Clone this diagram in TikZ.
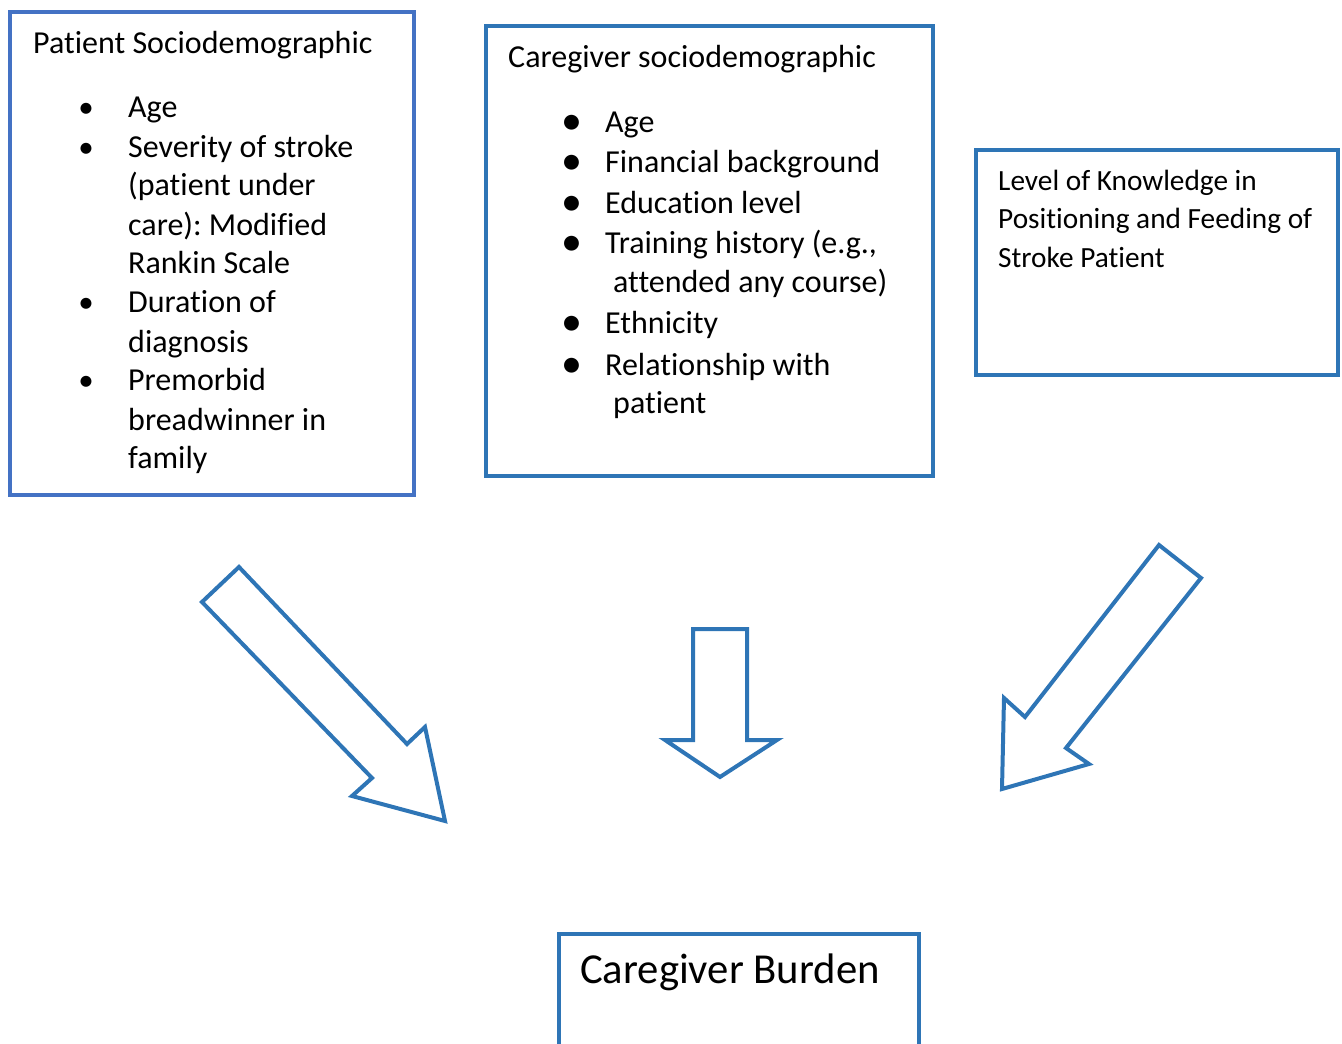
\documentclass[tikz,border=0pt]{standalone}
\usepackage{fontspec}
\setmainfont{Carlito}[Ligatures={NoCommon}]
\usepackage{tikz}
\frenchspacing

\definecolor{patblue}{HTML}{4472C4}
\definecolor{cgblue}{HTML}{2E75B6}

\tikzset{
  framebox/.style={draw=#1, line width=4pt, inner sep=0pt},
  entry/.style={anchor=base west, inner sep=0pt, font=\fontsize{32}{39}\selectfont},
  smalldot/.style={anchor=base, inner sep=0pt, font=\fontsize{31}{39}\selectfont},
  bigdot/.style={anchor=base, inner sep=0pt, font=\fontsize{42}{42}\selectfont},
  blockarrow/.style={draw=cgblue, line width=4pt, line join=miter},
}

\begin{document}
\begin{tikzpicture}[x=1pt, y=-1pt]
    \useasboundingbox (0,0) rectangle (1342,1044);

    % Patient box
    \node[framebox=patblue, minimum width=404, minimum height=483] (patient) at (212,253.5) {};
    \node[entry] (pt) at (33,53) {Patient Sociodemographic};
    \foreach \yy in {117,157,312,390}
        \node[smalldot] (pd\yy) at (86,\yy) {•};
    \foreach \yy/\txt in {117/Age, 157/Severity of stroke, 195/(patient under,
        235/{care): Modified}, 273/Rankin Scale, 312/Duration of, 352/diagnosis,
        390/Premorbid, 430/breadwinner in, 468/family}
        \node[entry] (pl\yy) at (128,\yy) {\txt};

    % Caregiver box
    \node[framebox=cgblue, minimum width=447, minimum height=450.5] (carer) at (709,250.75) {};
    \node[entry] (ct) at (508,67) {Caregiver sociodemographic};
    \foreach \yy in {132,172,213,253,333,375}
        \node[bigdot] (cd\yy) at (572,\yy+2.5) {•};
    \foreach \xx/\yy/\txt in {605/132/Age, 605/172/Financial background, 605/213/Education level,
        605/253/{Training history (e.g.,}, 613/292/{attended any course)}, 605/333/Ethnicity,
        605/375/Relationship with, 613/413/patient}
        \node[entry] (cl\yy) at (\xx,\yy) {\txt};

    % Knowledge box
    \node[framebox=cgblue, minimum width=362, minimum height=224.5] (know) at (1156.5,262.25) {};
    \foreach \yy/\txt in {190/Level of Knowledge in, 228/Positioning and Feeding of, 267/Stroke Patient}
        \node[entry, font=\fontsize{29.3}{38}\selectfont] (kl\yy) at (998,\yy) {\txt};

    % Burden box
    \node[framebox=cgblue, minimum width=360, minimum height=140] (burden) at (739,1003.5) {};
    \node[entry, font=\fontsize{42.7}{48}\selectfont] (bt) at (580,983) {Caregiver Burden};

    % Block arrows
    \draw[blockarrow] (239,567) -- (202,602) -- (372,778) -- (352,796) -- (445,821)
        -- (425,727) -- (407,744) -- cycle;
    \draw[blockarrow] (693,629) -- (747,629) -- (747,740) -- (777,740) -- (720,777)
        -- (665,740) -- (693,740) -- cycle;
    \draw[blockarrow] (1159,545) -- (1201,578) -- (1066,748) -- (1089,764) -- (1002,789)
        -- (1004,698) -- (1025,717) -- cycle;
\end{tikzpicture}
\end{document}
